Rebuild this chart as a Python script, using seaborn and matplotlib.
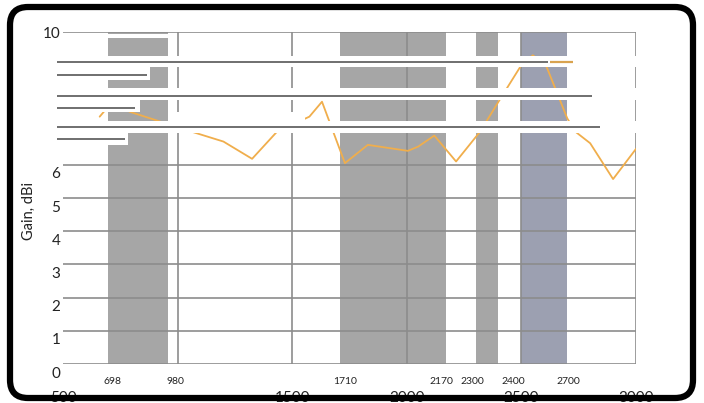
import matplotlib
matplotlib.use("Agg")
import matplotlib.pyplot as plt
import seaborn as sns
import pandas as pd
from matplotlib.patches import Rectangle, FancyBboxPatch
from matplotlib.transforms import ScaledTranslation

# antenna gain curve
freq = [660, 740, 790, 1060, 1200, 1325, 1434, 1575, 1630, 1730, 1830, 2005,
        2050, 2120, 2215, 2320, 2400, 2495, 2550, 2610, 2700, 2735, 2800, 2900, 3000]
gain = [7.45, 8.1, 7.6, 7.0, 6.7, 6.18, 7.0, 7.45, 7.9, 6.05, 6.6, 6.42,
        6.55, 6.88, 6.1, 7.0, 7.9, 8.95, 9.3, 8.95, 7.4, 7.0, 6.65, 5.57, 6.48]

# frequency bands (MHz)
band_start = [698, 1710, 2300, 2500]
band_end = [960, 2170, 2400, 2700]
band_color = ["#a6a6a6", "#a6a6a6", "#a6a6a6", "#9ca0b1"]
band_labels = [698, 980, 1710, 2170, 2300, 2400, 2700]
band_label_x = [718, 989, 1730, 2149, 2284, 2463, 2703]

x_ticks = [500, 1000, 1500, 2000, 2500, 3000]
x_ticklabels = ["500", "", "1500", "2000", "2500", "3000"]
y_ticks = list(range(0, 11))
y_ticklabels = ["0", "1", "2", "3", "4", "5", "6", "", "", "", "10"]

df = pd.DataFrame({"freq": freq, "gain": gain})

sns.set_theme(style="white")
plt.rcParams["font.family"] = ["Lato", "DejaVu Sans"]

fig = plt.figure(figsize=(7.04, 4.03), dpi=100)
ax = fig.add_axes([63 / 704, 39 / 403, 573 / 704, 332 / 403])

for s, e, c in zip(band_start, band_end, band_color):
    ax.axvspan(s, e, color=c, lw=0, zorder=0)

sns.lineplot(data=df, x="freq", y="gain", color="#f0ae4c", lw=1.3, ax=ax, zorder=3)

ax.set_xlim(500, 3000)
ax.set_ylim(0, 10)
ax.set_xticks(x_ticks)
ax.set_xticklabels(x_ticklabels)
ax.set_yticks(y_ticks)
ax.set_yticklabels(y_ticklabels)
ax.grid(True, color="#8c8c8c", lw=1.2, zorder=1)
ax.set_axisbelow(False)
ax.get_xgridlines()[0].set_visible(False)
for sp in ax.spines.values():
    sp.set_visible(False)
# the x tick labels run under the frame, as in the original
ax.tick_params(axis="x", length=0, pad=19.5, labelsize=11, colors="#222222")
ax.tick_params(axis="y", length=0, pad=2, labelsize=11, colors="#222222")
ax.set_xlabel("")
ax.set_ylabel("Gain, dBi", fontsize=10.5, color="#222222")
ax.yaxis.set_label_coords(-0.047, 0.46)

# y labels sit a little under their gridlines in the original (except the top one)
for lab in ax.get_yticklabels()[:-1]:
    lab.set_transform(lab.get_transform() + ScaledTranslation(0, -8 / 100, fig.dpi_scale_trans))

for v, xpos in zip(band_labels, band_label_x):
    ax.text(xpos, -0.052, str(v), transform=ax.get_xaxis_transform(),
            ha="center", va="center", fontsize=7.5, color="#222222")

# washed-out legend block and outer frame, in pixel space
ov = fig.add_axes([0, 0, 1, 1])
ov.set_zorder(5)
ov.set_xlim(0, 704)
ov.set_ylim(403, 0)
ov.axis("off")

strips = [(100, 172, 33.5, 38), (55, 640, 56, 67), (55, 150, 67, 80),
          (55, 640, 88, 100), (55, 140, 100, 112), (168, 305, 112, 121),
          (55, 640, 121, 133), (55, 128, 133, 145)]
for x0, x1, y0, y1 in strips:
    ov.add_patch(Rectangle((x0, y0), x1 - x0, y1 - y0, color="white", lw=0))

rows = [(57, 548, 62), (57, 147, 75), (57, 592, 95.5), (57, 135, 108),
        (57, 600, 127), (57, 125, 139)]
for x0, x1, y in rows:
    ov.plot([x0, x1], [y, y], color="#6f6f6f", lw=1.4, solid_capstyle="butt")
ov.plot([550, 573], [62, 62], color="#d9a34f", lw=1.6, solid_capstyle="butt")

ov.add_patch(FancyBboxPatch((10, 7), 683, 391, boxstyle="round,pad=0,rounding_size=18",
                            fill=False, ec="black", lw=4.5))

fig.savefig("out.png", dpi=100)
